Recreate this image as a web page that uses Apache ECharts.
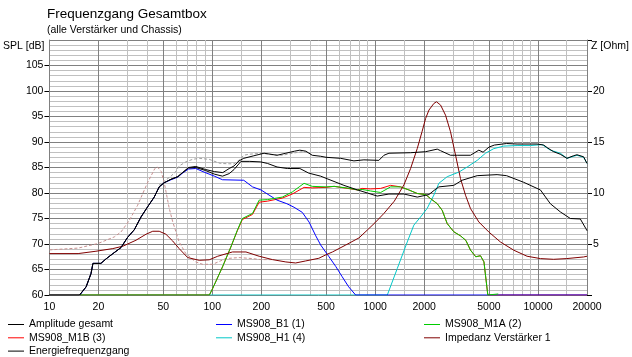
<!DOCTYPE html>
<html><head><meta charset="utf-8">
<script src="https://cdn.jsdelivr.net/npm/echarts@6/dist/echarts.min.js"></script>
<style>html,body{margin:0;padding:0;background:#fff}#c{width:632px;height:357px}</style>
</head><body><div id="c"></div>
<script>
// ---- axis ticks / labels ----
const xLabelFreqs = [10, 20, 50, 100, 200, 500, 1000, 2000, 5000, 10000, 20000];
const xMinorFreqs = [30, 40, 60, 70, 80, 90, 150, 300, 400, 600, 700, 800, 900, 1500, 3000, 4000, 6000, 7000, 8000, 9000, 15000];

// ---- Amplitude gesamt (black, upper) ----
const ampFreq = [10, 15.3, 16.8, 18.0, 18.5, 20.7, 22.3, 24.5, 27.5, 30.2, 33.2, 36.5, 40.1, 44, 47.2, 50.6, 55.8, 61.3, 65.7, 71.4, 79.2, 91, 103, 116, 127, 136, 146, 156, 180, 208, 250, 283, 320, 345, 375, 411, 463, 500, 614, 741, 853, 1054, 1133, 1216, 1651, 2042, 2406, 2520, 2904, 3192, 3850, 4333, 4600, 5000, 5400, 6414, 7441, 9866, 10840, 11500, 12480, 13700, 15070, 16500, 17360, 19060, 20000];
const ampDb = [60, 60, 61.6, 64.2, 66.2, 66.2, 67.1, 68.1, 69.3, 71.3, 72.8, 75.3, 77.3, 79.2, 81.2, 82.0, 82.7, 83.2, 84.0, 85.0, 85.2, 84.6, 84.2, 84.0, 84.8, 85.3, 86.3, 86.8, 87.3, 87.8, 87.4, 87.8, 88.2, 88.4, 88.2, 87.4, 87.2, 87.0, 86.8, 86.3, 86.5, 86.4, 87.4, 87.8, 87.9, 88.1, 88.6, 88.3, 87.4, 87.4, 87.4, 88.4, 88.0, 89.0, 89.4, 89.7, 89.6, 89.6, 89.4, 88.8, 88.1, 87.6, 86.8, 87.3, 87.5, 87.1, 85.8];

// ---- Energiefrequenzgang (black, lower) ----
const enFreq = [10, 15.3, 16.8, 18.0, 18.5, 20.7, 22.3, 24.5, 27.5, 30.2, 33.2, 36.5, 40.1, 44, 47.2, 50.6, 55.8, 61.3, 65.7, 71.4, 79.2, 91, 103, 115.5, 127, 136, 150, 170, 198, 218, 250, 289, 345, 391, 463, 507, 643, 780, 1030, 1216, 1503, 1815, 2140, 2300, 2462, 3040, 3422, 4233, 5609, 6414, 8166, 10350, 11910, 13710, 15810, 18200, 19700, 20000];
const enDb = [60, 60, 61.6, 64.2, 66.2, 66.2, 67.1, 68.1, 69.3, 71.3, 72.8, 75.3, 77.3, 79.2, 81.2, 82.0, 82.7, 83.2, 84.0, 84.9, 85.0, 84.4, 83.7, 83.3, 83.8, 84.6, 86.2, 86.2, 86.1, 85.8, 85.1, 84.8, 84.8, 83.9, 83.3, 82.8, 81.5, 80.6, 79.4, 79.8, 79.8, 79.2, 79.7, 80.5, 81.2, 81.5, 82.5, 83.4, 83.6, 83.4, 82.1, 80.6, 77.9, 76.3, 75.0, 74.9, 73.0, 72.6];

// ---- MS908_B1 (1) (blue) ----
const b1Freq = [15.4, 16.8, 18.0, 18.5, 20.7, 22.3, 24.5, 27.5, 30.2, 33.2, 36.5, 40.1, 44, 47.2, 50.6, 55.8, 61.3, 65.7, 71.4, 79.2, 89, 103, 115.5, 156, 176.6, 199, 223, 250, 287, 318, 357, 393, 432, 463, 521, 573, 627, 688, 759, 20000];
const b1Db = [60, 61.6, 64.2, 66.2, 66.2, 67.1, 68.1, 69.3, 71.3, 72.8, 75.3, 77.3, 79.2, 81.2, 82.0, 82.6, 83.1, 83.9, 84.7, 84.8, 84.1, 83.3, 82.6, 82.5, 81.2, 80.6, 79.6, 78.6, 77.9, 77.2, 76.2, 74.3, 71.6, 69.8, 67.5, 65.6, 63.6, 61.6, 60, 60];

// ---- MS908_M1A (2) (green) ----
const m1aFreq = [15.4, 96, 100.6, 115.5, 130, 142.5, 153, 176.6, 194, 218, 269, 310, 345, 366, 411, 500, 560, 700, 780, 832, 937, 1081, 1244, 1432, 1611, 1815, 2042, 2190, 2406, 2581, 2771, 3040, 3343, 3608, 3850, 4150, 4433, 4658, 4761, 4920, 4960, 5700];
const m1aDb = [60, 60, 61.3, 65.5, 69.4, 72.7, 75.0, 76.0, 78.6, 78.7, 79.2, 80.2, 81.3, 81.9, 81.3, 81.2, 81.3, 80.9, 80.6, 80.7, 80.4, 80.1, 81.2, 81.2, 80.6, 79.9, 79.7, 78.9, 77.9, 76.6, 74.0, 72.4, 71.6, 70.7, 68.8, 67.5, 67.7, 66.5, 63.9, 60, 60.2, 60.2];

// ---- MS908_M1B (3) (red) ----
const m1bFreq = [15.4, 96, 100.6, 115.5, 130, 142.5, 153, 176.6, 194, 218, 269, 310, 366, 411, 500, 560, 780, 832, 937, 1081, 1244, 1432, 1611, 1815, 2042, 2190, 2406, 2581, 2771, 3040, 3343, 3608, 3850, 4150, 4433, 4658, 4761, 4920, 20000];
const m1bDb = [60, 60, 61.3, 65.5, 69.4, 72.6, 74.8, 75.8, 78.2, 78.4, 79.0, 79.8, 81.1, 81.0, 81.1, 81.3, 80.6, 80.9, 80.8, 80.9, 81.5, 81.2, 80.6, 79.9, 79.7, 78.9, 77.9, 76.6, 74.0, 72.4, 71.6, 70.7, 68.8, 67.5, 67.7, 66.5, 63.9, 60, 60];

// ---- MS908_H1 (4) (cyan) ----
const h1Freq = [15.4, 1188, 1368, 1575, 1729, 1901, 2089, 2295, 2462, 2771, 3269, 3676, 4233, 4761, 5351, 6164, 7441, 8977, 10590, 11910, 13710, 15070, 17360, 19060, 20000];
const h1Db = [60, 60, 65.2, 70.4, 73.7, 75.3, 77.0, 79.6, 81.9, 83.2, 84.1, 85.1, 86.4, 87.8, 88.7, 89.2, 89.3, 89.3, 89.5, 88.4, 87.8, 86.8, 87.4, 87.0, 85.8];

// ---- Impedanz Verstärker 1 (dark red, Ohm) ----
const impFreq = [10, 15, 19.3, 24.5, 28.2, 34, 39.2, 43.1, 47.2, 51.9, 57.1, 62.6, 70.6, 83.2, 95.7, 108, 133, 161, 194, 234, 283, 325, 375, 451, 500, 547, 660, 796, 900, 1000, 1133, 1311, 1503, 1651, 1815, 1940, 2042, 2140, 2295, 2381, 2523, 2706, 2904, 3118, 3343, 3590, 3850, 4333, 4987, 5879, 7107, 8569, 10350, 12480, 15000, 19060, 20000];
const impOhm = [4.06, 4.06, 4.29, 4.55, 4.78, 5.37, 5.96, 6.25, 6.25, 5.96, 5.30, 4.55, 3.67, 3.40, 3.45, 3.8, 4.22, 4.22, 3.80, 3.47, 3.24, 3.14, 3.34, 3.6, 3.95, 4.22, 4.9, 5.6, 6.4, 7.1, 8.0, 9.2, 10.8, 12.4, 14.37, 16.0, 17.31, 18.13, 18.78, 18.94, 18.62, 17.63, 16.0, 13.71, 11.42, 9.78, 8.48, 7.16, 6.18, 5.20, 4.39, 3.80, 3.57, 3.50, 3.57, 3.73, 3.80];

// ---- reference curves (dashed, not in legend) ----
const refImpFreq = [10, 15, 19.8, 25, 27.5, 30.9, 34.8, 40, 44.4, 46, 48.6, 51, 54.4, 57.1, 62.6, 68.8, 79.2, 87.2, 100.6, 121, 146, 176, 199, 234];
const refImpOhm = [4.42, 4.6, 5.04, 5.69, 6.18, 7.3, 8.8, 11.0, 12.4, 12.56, 12.1, 10.8, 8.5, 7.2, 5.20, 4.06, 3.24, 3.01, 3.01, 3.57, 3.67, 3.57, 3.47, 3.47];
const refSplFreq = [47, 50.6, 55.8, 60, 62.6, 68.8, 75.7, 83.2, 95.7, 112, 136, 148, 156, 168, 203, 234, 269, 310, 357, 390, 411];
const refSplDb = [81.5, 82.3, 83.3, 84.3, 85.3, 86.1, 86.6, 86.8, 86.6, 85.8, 85.7, 86.6, 87.4, 87.6, 87.8, 87.5, 87.4, 87.8, 88.1, 88.0, 87.4];

// ---- legend entries in reading order (3 columns) ----
const legendNames = ['Amplitude gesamt', 'MS908_B1 (1)', 'MS908_M1A (2)', 'MS908_M1B (3)', 'MS908_H1 (4)', 'Impedanz Verstärker 1', 'Energiefrequenzgang'];

function pairs(fs, vs) { return fs.map((f, i) => [f, vs[i]]); }

const FONT = 'Liberation Sans';
const MAJOR = '#808080', MINOR = '#c0c0c0';
const legendCols = [8, 216, 424];
const legendRows = [319, 332.3, 345.6];

function line(name, fs, vs, color, opts) {
  return Object.assign({
    name: name, type: 'line', data: pairs(fs, vs), symbol: 'none',
    showSymbol: false, smooth: false, animation: false,
    lineStyle: { color: color, width: 1 }, itemStyle: { color: color },
    emphasis: { disabled: true }
  }, opts || {});
}

const legends = legendNames.map((n, i) => ({
  data: [n], left: legendCols[i % 3], top: legendRows[Math.floor(i / 3)],
  orient: 'horizontal', icon: 'rect', itemWidth: 16, itemHeight: 1, padding: 0,
  selectedMode: false, textStyle: { fontFamily: FONT, fontSize: 10.5, color: '#000' }
}));

const chart = echarts.init(document.getElementById('c'), null, { renderer: 'canvas' });
chart.setOption({
  animation: false,
  backgroundColor: '#fff',
  title: {
    text: 'Frequenzgang Gesamtbox', subtext: '(alle Verstärker und Chassis)',
    left: 47, top: 7, padding: 0, itemGap: 4,
    textStyle: { fontFamily: FONT, fontSize: 13.5, fontWeight: 'normal', color: '#000' },
    subtextStyle: { fontFamily: FONT, fontSize: 10.5, color: '#000' }
  },
  legend: legends,
  grid: { left: 48, right: 45, top: 40, height: 255, containLabel: false },
  xAxis: [
    {
      type: 'log', logBase: 10, min: 10, max: 20000, position: 'bottom',
      axisLine: { show: false },
      axisTick: { show: false, customValues: xLabelFreqs },
      axisLabel: { customValues: xLabelFreqs, margin: 7, fontFamily: FONT, fontSize: 10.5, color: '#000',
                   showMinLabel: true, showMaxLabel: true, hideOverlap: false,
                   formatter: v => String(Math.round(v)) },
      splitLine: { show: true, lineStyle: { color: MAJOR, width: 1 } },
      z: 3
    },
    {
      type: 'log', logBase: 10, min: 10, max: 20000, position: 'top',
      axisLine: { show: false },
      axisTick: { show: false, customValues: xMinorFreqs },
      axisLabel: { show: false },
      splitLine: { show: true, lineStyle: { color: MINOR, width: 1 } },
      z: 1
    }
  ],
  yAxis: [
    {
      type: 'value', min: 60, max: 110, interval: 5, position: 'left',
      name: 'SPL [dB]', nameLocation: 'end', nameGap: -6,
      nameTextStyle: { fontFamily: FONT, fontSize: 10.5, color: '#000', align: 'right', verticalAlign: 'middle', padding: [0, 5, 0, 0] },
      axisLine: { show: true, lineStyle: { color: MAJOR } },
      axisTick: { show: true, length: 5, inside: false, lineStyle: { color: '#000' } },
      axisLabel: { margin: 6, fontFamily: FONT, fontSize: 10.5, color: '#000', showMaxLabel: false,
                   formatter: v => (v >= 110 ? '' : String(v)) },
      splitLine: { show: true, lineStyle: { color: MAJOR, width: 1 } },
      minorTick: { show: false, splitNumber: 5 },
      minorSplitLine: { show: true, lineStyle: { color: MINOR, width: 1 } }
    },
    {
      type: 'value', min: 0, max: 25, interval: 5, position: 'right',
      name: 'Z [Ohm]', nameLocation: 'end', nameGap: -6,
      nameTextStyle: { fontFamily: FONT, fontSize: 10.5, color: '#000', align: 'left', verticalAlign: 'middle', padding: [0, 0, 0, 4] },
      axisLine: { show: true, lineStyle: { color: MAJOR } },
      axisTick: { show: true, length: 5, inside: false, lineStyle: { color: '#000' } },
      axisLabel: { margin: 6, fontFamily: FONT, fontSize: 10.5, color: '#000',
                   formatter: v => (v <= 0 || v >= 25 ? '' : String(v)) },
      splitLine: { show: false }
    }
  ],
  series: [
    line('ref Impedanz', refImpFreq, refImpOhm, '#c89090', { yAxisIndex: 1, lineStyle: { color: '#c89090', width: 1, type: [3, 2] } }),
    line('ref SPL', refSplFreq, refSplDb, '#a0a0a0', { lineStyle: { color: '#a0a0a0', width: 1, type: [3, 2] } }),
    line('MS908_H1 (4)', h1Freq, h1Db, '#00c8c8'),
    line('MS908_M1B (3)', m1bFreq, m1bDb, '#ff0000'),
    line('MS908_B1 (1)', b1Freq, b1Db, '#0000ff'),
    line('MS908_M1A (2)', m1aFreq, m1aDb, '#00cc00'),
    line('Impedanz Verstärker 1', impFreq, impOhm, '#800000', { yAxisIndex: 1 }),
    line('Energiefrequenzgang', enFreq, enDb, '#000000'),
    line('Amplitude gesamt', ampFreq, ampDb, '#000000')
  ]
});
</script>
</body></html>
